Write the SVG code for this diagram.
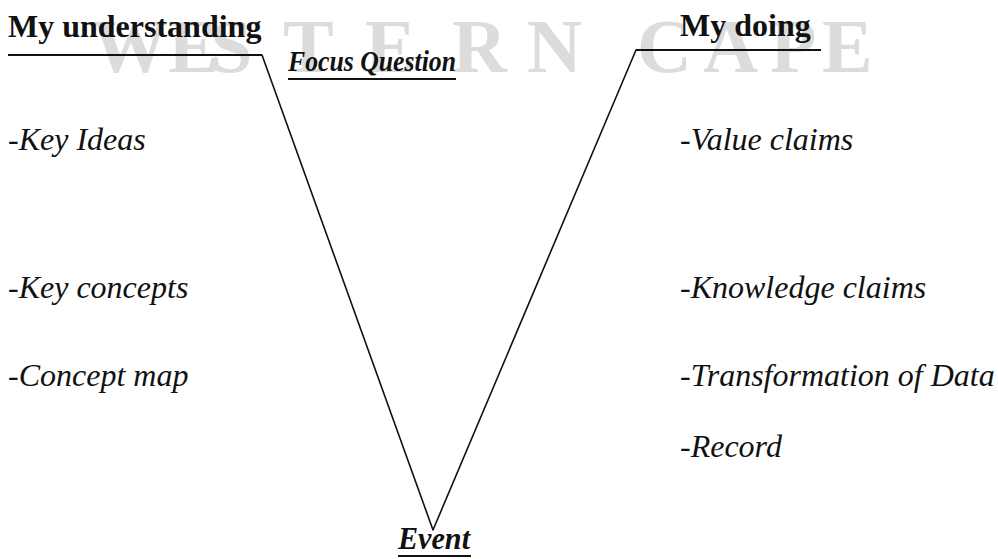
<svg xmlns="http://www.w3.org/2000/svg" width="998" height="559" viewBox="0 0 998 559">
<style>
.wm{font-family:"Liberation Serif","Times New Roman",serif;font-size:76px;font-weight:bold;fill:#dcdcdc}
.hd{font-family:"Liberation Serif","Times New Roman",serif;font-size:32px;font-weight:bold;fill:#111}
.it{font-family:"Liberation Serif","Times New Roman",serif;font-size:32px;font-style:italic;fill:#111}
.bi{font-family:"Liberation Serif","Times New Roman",serif;font-weight:bold;font-style:italic;fill:#111}
.ln{stroke:#111;stroke-width:1.6;fill:none;stroke-linecap:round;stroke-linejoin:round}
.ul{stroke:#111;stroke-width:2.2;fill:none}
</style>
<rect width="998" height="559" fill="#fff"/>
<text class="wm" x="92 168 210 283 365 452 527 600 637 703 770 822" y="72">WESTERN CAPE</text>
<g id="connectors">
<path class="ln" d="M262,55 L433,530 L636,50"/>
</g>
<g id="my-understanding">
<text class="hd" x="8" y="37">My understanding</text>
<line class="ul" x1="8" y1="55" x2="262" y2="55"/>
</g>
<g id="my-doing">
<text class="hd" x="680" y="36">My doing</text>
<line class="ul" x1="636" y1="50" x2="821" y2="50"/>
</g>
<g id="focus-question">
<text class="bi" x="288" y="71" font-size="29" textLength="168" lengthAdjust="spacingAndGlyphs">Focus Question</text>
<line class="ul" x1="288" y1="79" x2="456" y2="79"/>
</g>
<g id="event">
<text class="bi" x="398" y="549" font-size="32" textLength="72" lengthAdjust="spacingAndGlyphs">Event</text>
<line class="ul" x1="398" y1="556" x2="471" y2="556"/>
</g>
<g id="left-items">
<text class="it" x="8" y="150">-Key Ideas</text>
<text class="it" x="8" y="298">-Key concepts</text>
<text class="it" x="8" y="386">-Concept map</text>
</g>
<g id="right-items">
<text class="it" x="680" y="150">-Value claims</text>
<text class="it" x="680" y="298">-Knowledge claims</text>
<text class="it" x="680" y="386">-Transformation of Data</text>
<text class="it" x="680" y="457">-Record</text>
</g>
</svg>
